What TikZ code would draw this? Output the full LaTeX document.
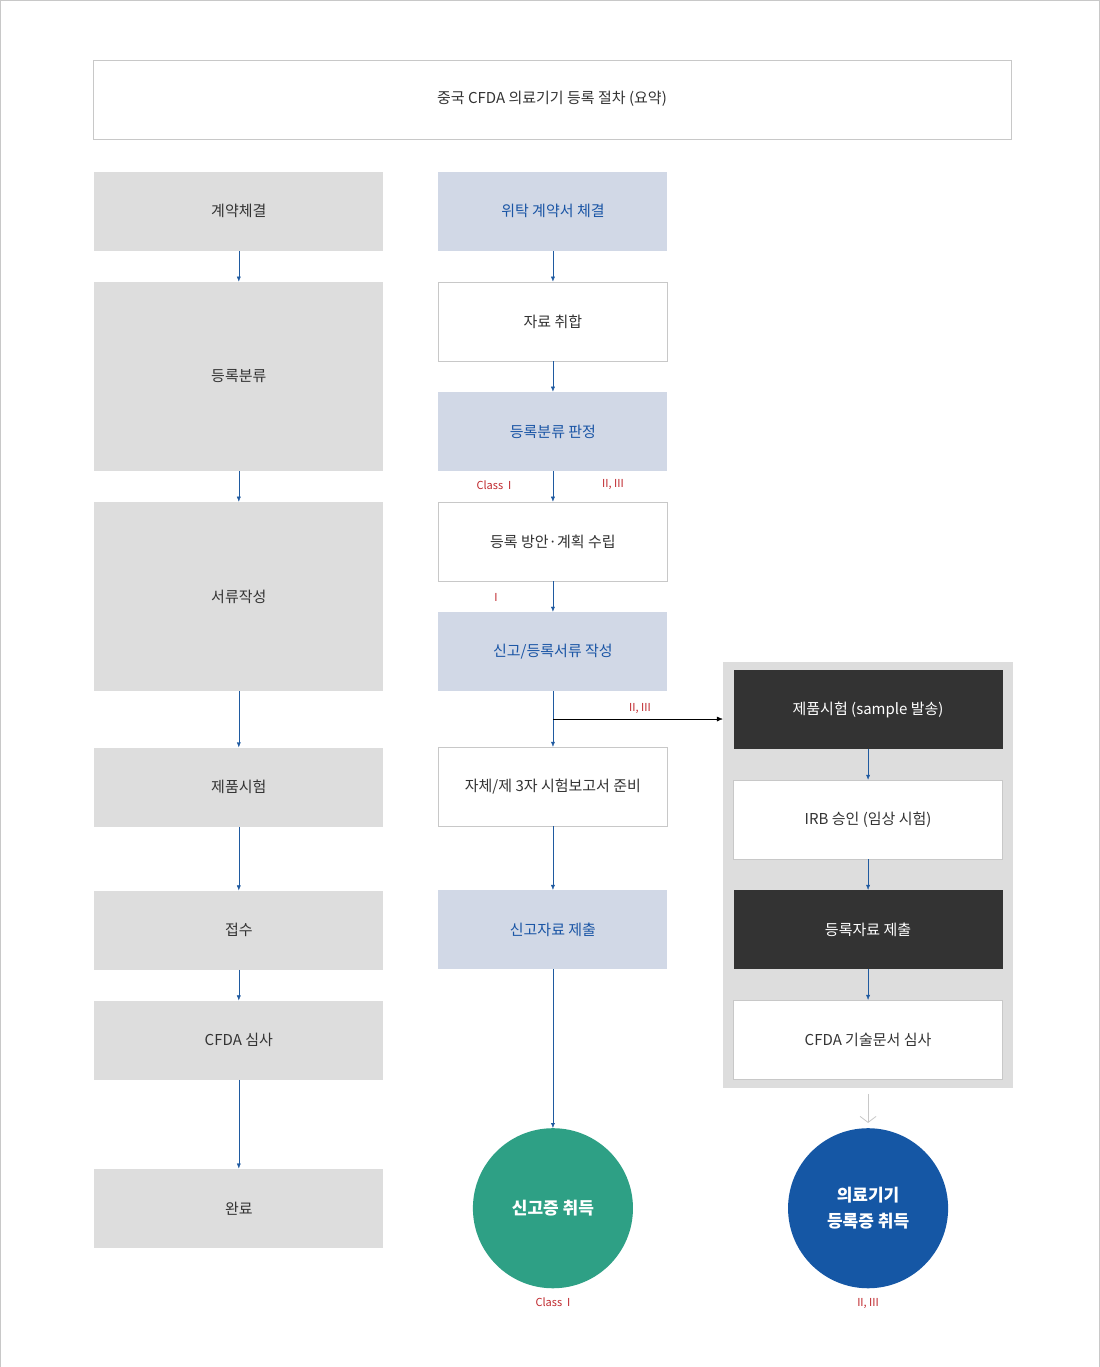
\documentclass[tikz,border=0pt]{standalone}
\usepackage{fontspec}
\setmainfont{Noto Sans CJK KR}
\usetikzlibrary{
	arrows.meta,
	positioning
}
\definecolor{boxgray}{HTML}{DDDDDD}
\definecolor{boxblue}{HTML}{D1D8E6}
\definecolor{textblue}{HTML}{1A55A5}
\definecolor{linegray}{HTML}{C8C8C8}
\definecolor{darkbox}{HTML}{333333}
\definecolor{arrowblue}{HTML}{1F5AA0}
\definecolor{classred}{HTML}{C0282D}
\definecolor{circgreen}{HTML}{2EA085}
\definecolor{circblue}{HTML}{1557A5}

\begin{document}
\begin{tikzpicture} [
		x = 1pt,
		y = -1pt,
		box/.style = {
			rectangle,
			minimum width = 289pt,
			minimum height = 79pt,
			inner sep = 0pt,
			font = \fontsize{15}{18}\selectfont,
			text = black!80,
		},
		gray-box/.style = {
			box,
			fill = boxgray,
		},
		mid/.style = {
			box,
			minimum width = 229pt,
		},
		blue-box/.style = {
			mid,
			fill = boxblue,
			text = textblue,
		},
		white-box/.style = {
			mid,
			draw = linegray,
			fill = white,
		},
		right-box/.style = {
			box,
			minimum width = 269pt,
		},
		circ/.style = {
			circle,
			minimum size = 160pt,
			inner sep = 0pt,
			text = white,
			align = center,
			font = \fontsize{17}{26}\selectfont\bfseries,
		},
		line/.style = {
			draw = arrowblue,
			-{Latex[length = 5pt, width = 4pt]},
		},
		class/.style = {
			text = classred,
			font = \fontsize{11}{13}\selectfont,
		}
	]

	\draw[linegray, fill = white] (0.5,0.5) rectangle (1099.5,1366.5);

	\node[box, draw = linegray, minimum width = 918pt] (title) at (552,99.5) {
		중국 CFDA 의료기기 등록 절차 (요약)
	};

	% left column
	\node[gray-box] (l1) at (239,211.5) {계약체결};
	\node[gray-box, minimum height = 189pt] (l2) at (239,376.5) {등록분류};
	\node[gray-box, minimum height = 189pt] (l3) at (239,596.5) {서류작성};
	\node[gray-box] (l4) at (239,787) {제품시험};
	\node[gray-box] (l5) at (239,930) {접수};
	\node[gray-box] (l6) at (239,1040) {CFDA 심사};
	\node[gray-box] (l7) at (239,1208) {완료};

	% middle column
	\node[blue-box] (m1) at (553,211.5) {위탁 계약서 체결};
	\node[white-box] (m2) at (553,321.5) {자료 취합};
	\node[blue-box] (m3) at (553,431.5) {등록분류 판정};
	\node[white-box] (m4) at (553,541.5) {등록 방안·계획 수립};
	\node[blue-box] (m5) at (553,651.5) {신고/등록서류 작성};
	\node[white-box] (m6) at (553,786.5) {자체/제 3자 시험보고서 준비};
	\node[blue-box] (m7) at (553,929.5) {신고자료 제출};
	\node[circ, fill = circgreen] (done1) at (553,1208) {신고증 취득};

	% right column
	\node[rectangle, fill = boxgray, minimum width = 290pt, minimum height = 426pt, inner sep = 0pt]
		(panel) at (868,874.5) {};
	\node[right-box, fill = darkbox, text = white] (r1) at (868,709.5) {제품시험 (sample 발송)};
	\node[right-box, draw = linegray, fill = white] (r2) at (868,819.5) {IRB 승인 (임상 시험)};
	\node[right-box, fill = darkbox, text = white] (r3) at (868,929.5) {등록자료 제출};
	\node[right-box, draw = linegray, fill = white] (r4) at (868,1039.5) {CFDA 기술문서 심사};
	\node[circ, fill = circblue] (done2) at (868,1208) {의료기기\\등록증 취득};

	\foreach \a/\b in {l1/l2, l2/l3, l3/l4, l4/l5, l5/l6, l6/l7,
			m1/m2, m2/m3, m3/m4, m4/m5, m5/m6, m6/m7, m7/done1,
			r1/r2, r2/r3, r3/r4} {
		\path[line] (\a) -- (\b);
	}

	\coordinate (split) at (553,719);
	\draw[-{Latex[length = 6pt, width = 5pt]}] (split) -- (split -| panel.west);
	\draw[linegray, -{Straight Barb[length = 6pt, width = 16pt]}, thick]
		(panel.south) ++(0,6) -- ++(0,29);

	\node[class] (c1) at (494,485) {Class \ I};
	\node[class] (c2) at (613,485) {II, III};
	\node[class] (c3) at (496,597) {I};
	\node[class] (c4) at (640,708) {II, III};
	\node[class, below = 6pt of done1] (c5) {Class \ I};
	\node[class, below = 6pt of done2] (c6) {II, III};
\end{tikzpicture}
\end{document}
